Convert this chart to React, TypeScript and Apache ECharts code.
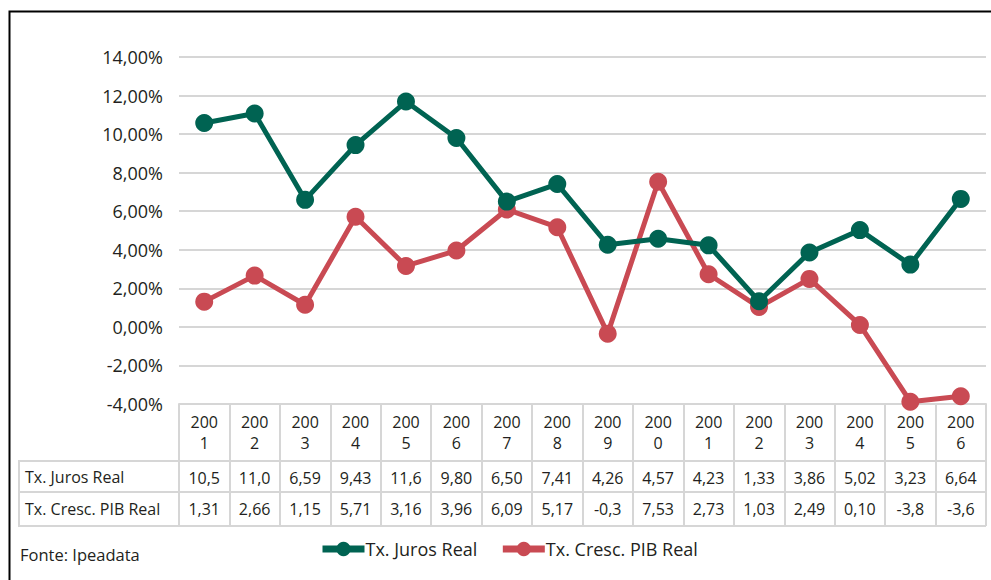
import React, { useEffect, useRef } from "react";
import * as echarts from "echarts";

const years = ["2001","2002","2003","2004","2005","2006","2007","2008","2009","2010","2011","2012","2013","2014","2015","2016"];
const headerLabels = ["200\n1","200\n2","200\n3","200\n4","200\n5","200\n6","200\n7","200\n8","200\n9","200\n0","200\n1","200\n2","200\n3","200\n4","200\n5","200\n6"];
const jurosReal = [10.58, 11.07, 6.59, 9.43, 11.69, 9.8, 6.5, 7.41, 4.26, 4.57, 4.23, 1.33, 3.86, 5.02, 3.23, 6.64];
const pibReal = [1.31, 2.66, 1.15, 5.71, 3.16, 3.96, 6.09, 5.17, -0.35, 7.53, 2.73, 1.03, 2.49, 0.1, -3.88, -3.6];
const jurosLabels = ["10,5","11,0","6,59","9,43","11,6","9,80","6,50","7,41","4,26","4,57","4,23","1,33","3,86","5,02","3,23","6,64"];
const pibLabels = ["1,31","2,66","1,15","5,71","3,16","3,96","6,09","5,17","-0,3","7,53","2,73","1,03","2,49","0,10","-3,8","-3,6"];
const seriesNames = ["Tx. Juros Real", "Tx. Cresc. PIB Real"];

const FONT = "'Open Sans', 'Noto Sans', sans-serif";
const TXT = "#231f20";
const GRID = "#d6d6d6";
const GREEN = "#006352";
const RED = "#c94a53";

export default function App() {
  const ref = useRef<HTMLDivElement>(null);
  useEffect(() => {
    if (!ref.current) return;
    const chart = echarts.init(ref.current, undefined, { renderer: "svg" });
    const tableAxis = (data: string[], offset: number, tickLen: number, margin: number, fmt?: (v: string, i: number) => string) => ({
      type: "category",
      position: "bottom",
      gridIndex: 0,
      offset,
      data,
      boundaryGap: true,
      axisLine: { show: true, onZero: false, lineStyle: { color: GRID, width: 2 } },
      axisTick: { show: true, interval: 0, length: tickLen, lineStyle: { color: GRID, width: 2 } },
      axisLabel: {
        interval: 0,
        margin,
        color: TXT,
        fontFamily: FONT,
        fontSize: 16,
        lineHeight: 21,
        formatter: fmt,
      },
      splitLine: { show: false },
    });
    chart.setOption({
      animation: false,
      backgroundColor: "#fff",
      textStyle: { fontFamily: FONT },
      grid: { left: 179, right: 5, top: 57, bottom: 176, containLabel: false },
      xAxis: [
        tableAxis(years, 0, 57, 7, (_v: string, i: number) => headerLabels[i]),
        tableAxis(jurosLabels, 57, 31, 6),
        tableAxis(pibLabels, 88, 34, 6),
      ],
      yAxis: {
        type: "value",
        min: -4,
        max: 14,
        interval: 2,
        axisLine: { show: false },
        axisTick: { show: false },
        splitLine: { lineStyle: { color: GRID, width: 2 } },
        axisLabel: {
          margin: 16,
          color: TXT,
          fontFamily: FONT,
          fontSize: 18,
          formatter: (v: number) => v.toFixed(2).replace(".", ",") + "%",
        },
      },
      legend: {
        left: 314,
        top: 535,
        itemWidth: 42,
        itemHeight: 18,
        itemGap: 22,
        lineStyle: { width: 7 },
        textStyle: { color: TXT, fontFamily: FONT, fontSize: 18, padding: [0, 0, 0, -4] },
        data: seriesNames,
      },
      series: [
        {
          name: seriesNames[0],
          type: "line",
          xAxisIndex: 0,
          data: jurosReal,
          symbol: "circle",
          symbolSize: 18,
          color: GREEN,
          lineStyle: { width: 5, color: GREEN },
          itemStyle: { color: GREEN },
          z: 3,
        },
        {
          name: seriesNames[1],
          type: "line",
          xAxisIndex: 0,
          data: pibReal,
          symbol: "circle",
          symbolSize: 18,
          color: RED,
          lineStyle: { width: 5, color: RED },
          itemStyle: { color: RED },
          z: 2,
        },
      ],
      graphic: [
        {
          type: "polyline",
          shape: { points: [[9.5, 580], [9.5, 11.5], [991, 11.5]] },
          style: { stroke: "#000", lineWidth: 2, fill: null },
        },
        {
          type: "rect",
          shape: { x: 19, y: 461, width: 160, height: 65 },
          style: { stroke: GRID, lineWidth: 2, fill: null },
        },
        {
          type: "line",
          shape: { x1: 19, y1: 492, x2: 179, y2: 492 },
          style: { stroke: GRID, lineWidth: 2 },
        },
        {
          type: "line",
          shape: { x1: 179, y1: 526, x2: 986, y2: 526 },
          style: { stroke: GRID, lineWidth: 2 },
        },
        {
          type: "text",
          x: 25,
          y: 477,
          style: { text: seriesNames[0], fill: TXT, font: `16px ${FONT}`, verticalAlign: "middle" },
        },
        {
          type: "text",
          x: 25,
          y: 509,
          style: { text: seriesNames[1], fill: TXT, font: `16px ${FONT}`, verticalAlign: "middle" },
        },
        {
          type: "text",
          x: 20,
          y: 554,
          style: { text: "Fonte: Ipeadata", fill: TXT, font: `16.5px ${FONT}`, verticalAlign: "middle" },
        },
      ],
    });
    return () => chart.dispose();
  }, []);
  return <div ref={ref} style={{ position: "fixed", left: 0, top: 0, width: 991, height: 580, background: "#fff" }} />;
}
